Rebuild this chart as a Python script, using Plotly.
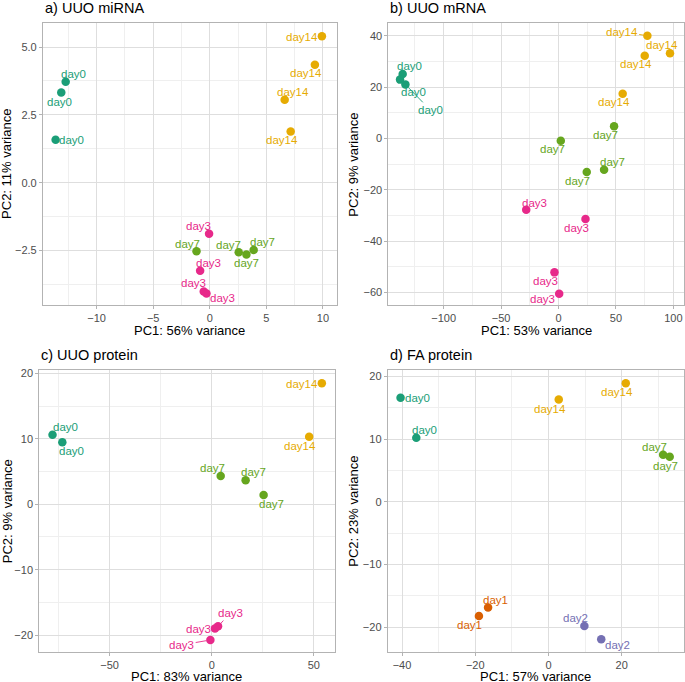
import plotly.graph_objects as go

# ---------------- data ----------------
# a) UUO miRNA
a_labels = ["day0", "day0", "day0", "day14", "day14", "day14", "day14",
            "day3", "day3", "day3", "day3", "day7", "day7", "day7", "day7"]
a_pc1 = [-12.73, -13.12, -13.62, 9.91, 9.29, 6.62, 7.15,
         -0.06, -0.85, -0.53, -0.29, -1.17, 2.56, 3.24, 3.88]
a_pc2 = [3.72, 3.32, 1.58, 5.40, 4.35, 3.06, 1.89,
         -1.88, -3.25, -4.01, -4.09, -2.53, -2.57, -2.65, -2.48]

# b) UUO mRNA
b_labels = ["day0", "day0", "day0", "day14", "day14", "day14", "day14",
            "day7", "day7", "day7", "day7", "day3", "day3", "day3", "day3"]
b_pc1 = [-135.7, -138.0, -133.3, 77.4, 97.1, 75.1, 55.9,
         48.4, 2.0, 39.7, 24.6, -28.1, 23.5, -3.5, 0.6]
b_pc2 = [25.1, 22.9, 21.0, 40.0, 33.2, 32.2, 17.4,
         4.7, -0.9, -12.2, -13.1, -27.8, -31.4, -52.2, -60.5]

# c) UUO protein
c_labels = ["day0", "day0", "day14", "day14", "day7", "day7", "day7",
            "day3", "day3", "day3"]
c_pc1 = [-77.9, -73.1, 53.9, 47.7, 4.4, 16.6, 25.4, 3.1, 1.6, -0.65]
c_pc2 = [10.64, 9.48, 18.5, 10.3, 4.3, 3.65, 1.4, -18.66, -19.0, -20.74]

# d) FA protein
d_labels = ["day0", "day0", "day14", "day14", "day7", "day7",
            "day1", "day1", "day2", "day2"]
d_pc1 = [-40.4, -36.1, 2.8, 21.1, 31.3, 33.1, -16.5, -19.0, 9.8, 14.4]
d_pc2 = [16.6, 10.2, 16.3, 18.9, 7.5, 7.2, -16.85, -18.2, -19.8, -21.9]

titles = ["a) UUO miRNA", "b) UUO mRNA", "c) UUO protein", "d) FA protein"]
x_titles = ["PC1: 56% variance", "PC1: 53% variance", "PC1: 83% variance", "PC1: 57% variance"]
y_titles = ["PC2: 11% variance", "PC2: 9% variance", "PC2: 9% variance", "PC2: 23% variance"]

# ---------------- label placement (pixel offsets, dx right, dy down; lead = leader line) ----------------
a_off = [(8, -8), (-2, 9), (16, 0), (-19.7, 0.7), (-8.7, 8.7), (8.3, -7.7), (-8.3, 8.3),
         (-10.3, -8), (8.3, -7.7), (-10.7, -8.3), (15.7, 4.3),
         (-9, -7.7), (-10.3, -7.7), (0, 8.7), (8.7, -8.3)]
a_lead = [False] * 15
b_off = [(6.7, -8.3), (13.3, 12.7), (24.7, 25.3), (-25.7, -4), (-8.3, -8), (-8.7, 8.7), (-9, 8.7),
         (-8.3, 8.7), (-8.3, 8.3), (8.3, -7.3), (-9, 8.7),
         (8.3, -7), (-8.7, 8.7), (-8.7, 8.7), (-16.7, 5.3)]
b_lead = [False, False, True, True] + [False] * 11
c_off = [(13.3, -7.7), (8.7, 9), (-19.7, 1), (-8.7, 8.7), (-8.3, -7.7), (8.3, -8), (8.3, 8.7),
         (12.3, -13.3), (-16.3, 0.7), (-28.7, 5)]
c_lead = [False] * 7 + [True, False, True]
d_off = [(16.7, 0.7), (8.7, -7.7), (-8.3, 9.3), (-8.3, 8.7), (-8.3, -7.7), (-4, 9),
         (7.7, -7.3), (-9, 9), (-8.7, -8), (16, 5.7)]
d_lead = [False] * 10

colors = {"day0": "#1B9E77", "day1": "#D95F02", "day2": "#7570B3",
          "day3": "#E7298A", "day7": "#66A61E", "day14": "#E6AB02"}

W, H = 685, 682
FONT = "Liberation Sans, Arial, Helvetica, sans-serif"

# plot-area pixel boxes (left, right, top, bottom)
boxes = [(43, 337, 20, 303.3), (389, 685, 20.5, 303.3),
         (39.3, 335, 369, 652), (388.3, 685, 369, 652)]
ranges = [([-14.74, 11.2], [-4.51, 5.89]),
          ([-148.1, 109.3], [-64.9, 44.8]),
          ([-84.4, 60.1], [-22.6, 20.46]),
          ([-43.9, 37.0], [-23.96, 20.95])]
dticks = [(5, 2.5), (50, 20), (50, 10), (20, 10)]
yfmt = [".1f", "", "", ""]
ytitle_x = [7, 354, 7, 354]
xtitle_gap = [26, 26, 24.5, 24.5]

panels = [(a_labels, a_pc1, a_pc2, a_off, a_lead),
          (b_labels, b_pc1, b_pc2, b_off, b_lead),
          (c_labels, c_pc1, c_pc2, c_off, c_lead),
          (d_labels, d_pc1, d_pc2, d_off, d_lead)]

fig = go.Figure()
annotations = []
layout = {}

for i, (labs, xs, ys, offs, leads) in enumerate(panels):
    n = "" if i == 0 else str(i + 1)
    xref, yref = "x" + n, "y" + n
    l, r, t, b = boxes[i]
    fig.add_trace(go.Scatter(
        x=xs, y=ys, mode="markers", xaxis=xref, yaxis=yref,
        marker=dict(size=8.5, color=[colors[s] for s in labs], line=dict(width=0)),
        showlegend=False, hoverinfo="skip"))
    grid = "#DEDEDE"
    common = dict(showline=True, mirror=True, linecolor="#B3B3B3", linewidth=1,
                  zeroline=False, showgrid=True, gridcolor=grid, gridwidth=1,
                  ticks="outside", ticklen=3, tickcolor="#B3B3B3", tickwidth=1,
                  tickfont=dict(family=FONT, size=11, color="#4D4D4D"))
    xr, yr = ranges[i]
    dx_, dy_ = dticks[i]
    layout["xaxis" + n] = dict(common, domain=[l / W, r / W], range=xr, anchor=yref,
                               tick0=0, dtick=dx_,
                               minor=dict(showgrid=True, gridcolor="#EFEFEF", tick0=0,
                                          dtick=dx_ / 2, ticks=""))
    layout["yaxis" + n] = dict(common, domain=[1 - b / H, 1 - t / H], range=yr, anchor=xref,
                               tick0=0, dtick=dy_, tickformat=yfmt[i],
                               minor=dict(showgrid=True, gridcolor="#EFEFEF", tick0=0,
                                          dtick=dy_ / 2, ticks=""))
    # point labels
    for s, x, y, (ox, oy), lead in zip(labs, xs, ys, offs, leads):
        c = colors[s]
        if lead:
            annotations.append(dict(x=x, y=y, xref=xref, yref=yref, text=s, showarrow=True,
                                    ax=ox, ay=oy, axref="pixel", ayref="pixel",
                                    arrowhead=0, arrowwidth=0.9, arrowcolor=c, standoff=4,
                                    font=dict(family=FONT, size=11.5, color=c)))
        else:
            annotations.append(dict(x=x, y=y, xref=xref, yref=yref, text=s, showarrow=False,
                                    xshift=ox, yshift=-oy,
                                    font=dict(family=FONT, size=11.5, color=c)))
    # panel title
    annotations.append(dict(x=l / W, y=1 - t / H, xref="paper", yref="paper",
                            xanchor="left", yanchor="bottom", yshift=5, text=titles[i],
                            showarrow=False, font=dict(family=FONT, size=14.5, color="#000000")))
    # x axis title
    annotations.append(dict(x=(l + r) / 2 / W, y=1 - (b + xtitle_gap[i]) / H, xref="paper",
                            yref="paper", xanchor="center", yanchor="middle", text=x_titles[i],
                            showarrow=False, font=dict(family=FONT, size=13, color="#000000")))
    # y axis title
    annotations.append(dict(x=ytitle_x[i] / W, y=1 - (t + b) / 2 / H, xref="paper", yref="paper",
                            xanchor="center", yanchor="middle", text=y_titles[i], textangle=-90,
                            showarrow=False, font=dict(family=FONT, size=13, color="#000000")))

fig.update_layout(**layout)
fig.update_layout(width=W, height=H, margin=dict(l=0, r=0, t=0, b=0),
                  paper_bgcolor="white", plot_bgcolor="white",
                  annotations=annotations, showlegend=False)
fig.write_html("out.html", config={"displayModeBar": False},
               post_script="document.body.style.margin='0';document.body.style.overflow='hidden';")
